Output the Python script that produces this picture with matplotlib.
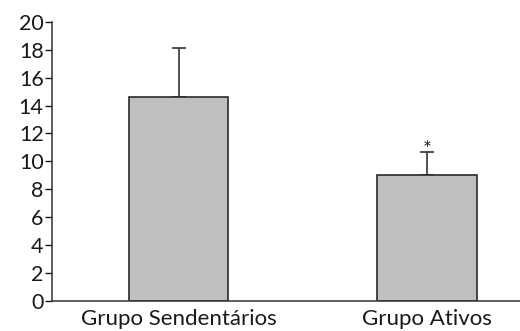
import numpy as np
import matplotlib.pyplot as plt

grupos = ['Grupo Sendentários', 'Grupo Ativos']
medias = [14.6, 9.05]
erro_sup = [3.5, 1.65]
yticks = list(range(0, 21, 2))

plt.rcParams['font.family'] = ['Lato', 'DejaVu Sans']

fig = plt.figure(figsize=(5.2, 3.31), dpi=100)
ax = fig.add_axes([0.1, 0.0915, 0.9, 0.842])

x = np.arange(len(grupos))
ax.bar(x, medias, width=0.4, color='#bfbfbf', edgecolor='#2a2a2a', linewidth=1.2, zorder=2)
ax.errorbar(x, medias, yerr=[np.zeros(len(x)), erro_sup], fmt='none',
            ecolor='#333333', elinewidth=1.2, capsize=5, capthick=1.2, zorder=1)

# marcador de significancia
ax.text(x[1], medias[1] + erro_sup[1] - 0.35, '*', ha='center', va='baseline',
        fontsize=15, color='#222222')

ax.set_xlim(-0.509, 1.374)
ax.set_ylim(0, 20)
ax.set_yticks(yticks)
ax.set_xticks(x)
ax.set_xticklabels(grupos)
ax.tick_params(axis='y', direction='out', length=5, width=1, labelsize=15.5, pad=1, colors='#1a1a1a')
ax.tick_params(axis='x', length=0, labelsize=16, pad=6, colors='#1a1a1a')
for s in ['top', 'right']:
    ax.spines[s].set_visible(False)
for s in ['left', 'bottom']:
    ax.spines[s].set_color('#333333')
    ax.spines[s].set_linewidth(1.1)

fig.savefig('out.png', dpi=100)
